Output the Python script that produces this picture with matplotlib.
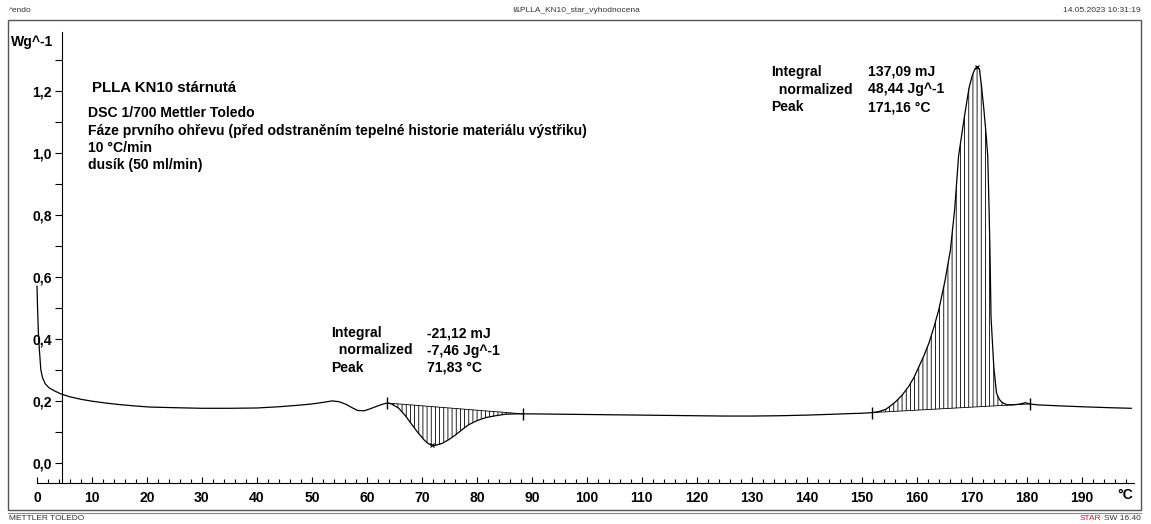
import numpy as np
import matplotlib
matplotlib.use("Agg")
import matplotlib.pyplot as plt
from matplotlib.ticker import MultipleLocator, FuncFormatter
from matplotlib.patches import Rectangle
from matplotlib.lines import Line2D

plt.rcParams['font.family'] = ['Liberation Sans', 'DejaVu Sans']
plt.rcParams['hatch.linewidth'] = 0.6

# DSC curve, temperature in degC and heat flow in W/g
temp = [0.0, 0.1, 0.25, 0.45, 0.7, 1.0, 1.5, 2.2, 3.2, 4.4, 6, 8, 10, 12.5, 15, 17.5,
        20.5, 25, 30, 35, 40, 44, 47.6, 50, 52, 53.7, 55, 56.3, 57.5, 58.3, 59.5, 60.7,
        62, 63, 63.7, 64.5, 65.8, 67, 68.2, 69.3, 70.4, 71.0, 71.8, 72.6, 73.7, 74.9,
        76.1, 77.3, 78.5, 80, 81.6, 83.4, 85.2, 87, 88.4, 90, 95, 100, 105, 110, 115,
        120, 125, 130, 135, 140, 145, 148, 150, 151.8, 153, 154.4, 155.3, 156.2, 157.4,
        158.5, 159.5, 160.4, 161.3, 162.2, 163.1, 164.0, 165.1, 166.1, 166.9, 167.6,
        168.6, 169.5, 170.1, 170.6, 171.0, 171.4, 171.8, 172.2, 172.6, 172.9, 173.1,
        173.3, 173.5, 174.0, 174.5, 175.0, 175.5, 176.3, 177.3, 178.5, 179.3, 179.8,
        180.5, 182, 185.8, 190, 195, 199]
heat_flow = [0.57, 0.50, 0.42, 0.36, 0.30, 0.275, 0.255, 0.242, 0.232, 0.222, 0.213,
             0.205, 0.199, 0.193, 0.188, 0.184, 0.180, 0.178, 0.176, 0.176, 0.177, 0.181,
             0.186, 0.190, 0.195, 0.200, 0.197, 0.188, 0.176, 0.169, 0.168, 0.175, 0.184,
             0.190, 0.193, 0.190, 0.176, 0.152, 0.123, 0.097, 0.074, 0.064, 0.056, 0.057,
             0.063, 0.075, 0.090, 0.107, 0.123, 0.136, 0.146, 0.152, 0.157, 0.158, 0.158,
             0.158, 0.157, 0.156, 0.155, 0.154, 0.153, 0.152, 0.151, 0.151, 0.152, 0.154,
             0.157, 0.159, 0.160, 0.162, 0.165, 0.173, 0.185, 0.198, 0.220, 0.246, 0.276,
             0.311, 0.346, 0.386, 0.437, 0.494, 0.585, 0.685, 0.82, 0.99, 1.11, 1.21, 1.25,
             1.272, 1.278, 1.27, 1.21, 1.14, 1.06, 0.99, 0.85, 0.69, 0.47, 0.31, 0.225,
             0.205, 0.195, 0.188, 0.187, 0.189, 0.192, 0.194, 0.19, 0.187, 0.184, 0.181,
             0.178, 0.176]

# integration limits and peaks
cryst_limits = [63.7, 88.4]
cryst_peak = [71.8, 0.056]
melt_limits = [151.8, 180.5]
melt_peak = [171.0, 1.278]

cryst_text = ["-21,12 mJ", "-7,46 Jg^-1", "71,83 °C"]
melt_text = ["137,09 mJ", "48,44 Jg^-1", "171,16 °C"]
info_lines = ["DSC 1/700 Mettler Toledo",
              "Fáze prvního ohřevu (před odstraněním tepelné historie materiálu výstřiku)",
              "10 °C/min",
              "dusík (50 ml/min)"]

W, H = 1151, 524
FS = 10.1


def px(x, y):
    return x / W, 1 - y / H


fig = plt.figure(figsize=(W / 100, H / 100), dpi=100)
x0, y_top = px(37, 32)
x1, y_bot = px(1134, 483)
ax = fig.add_axes([x0, y_bot, x1 - x0, y_top - y_bot])
ax.set_xlim(0, 199.5)
ax.set_ylim(-0.065, 1.39)

t = np.array(temp)
v = np.array(heat_flow)
ax.plot(t, v, color='black', lw=0.9, clip_on=False)


def integral(limits, peak):
    m = (t >= limits[0]) & (t <= limits[1])
    tt = t[m]
    vv = v[m]
    base = np.interp(tt, [tt[0], tt[-1]], [vv[0], vv[-1]])
    ax.fill_between(tt, vv, base, facecolor='none', edgecolor='black', hatch='||||', lw=0)
    ax.plot([tt[0], tt[-1]], [vv[0], vv[-1]], color='black', lw=0.6)
    ax.plot([tt[0], tt[-1]], [vv[0], vv[-1]], ls='none', marker='|', ms=8, mew=1.0, color='black')
    ax.plot([peak[0]], [peak[1]], ls='none', marker='x', ms=3.5, mew=0.8, color='black')


integral(cryst_limits, cryst_peak)
integral(melt_limits, melt_peak)

# axes styling in the STAR software manner
for s in ['top', 'right']:
    ax.spines[s].set_visible(False)
ax.spines['left'].set_position(('data', 4.5))
ax.spines['left'].set_linewidth(0.8)
ax.spines['bottom'].set_linewidth(0.8)
ax.yaxis.set_major_locator(MultipleLocator(0.2))
ax.yaxis.set_minor_locator(MultipleLocator(0.1))
ax.yaxis.set_major_formatter(FuncFormatter(lambda val, pos: f"{val:.1f}".replace('.', ',') if val < 1.3 else ""))
ax.xaxis.set_major_locator(MultipleLocator(10))
ax.xaxis.set_minor_locator(MultipleLocator(2))
ax.xaxis.set_major_formatter(FuncFormatter(lambda val, pos: f"{val:.0f}" if val < 195 else ""))
ax.tick_params(axis='y', which='both', direction='out', length=5, width=0.8, pad=2,
               labelsize=FS)
ax.tick_params(axis='x', which='major', direction='in', length=4, width=0.8, pad=6,
               labelsize=FS)
ax.tick_params(axis='x', which='minor', direction='in', length=3, width=0.8)
for lab in ax.get_xticklabels() + ax.get_yticklabels():
    lab.set_fontweight('bold')
ax.patch.set_visible(False)

bold = dict(fontsize=FS, fontweight='bold', va='center')
fig.text(*px(11, 42), "Wg^-1", **bold)
fig.text(*px(1117, 495), "°C", **bold)

fig.text(*px(92, 88), "PLLA KN10 stárnutá", fontsize=10.8, fontweight='bold', va='center')
for i, line in enumerate(info_lines):
    fig.text(*px(88, 113 + i * 17.5), line, **bold)

labels = ["Integral", "  normalized", "Peak"]
for i in range(3):
    fig.text(*px(331, 333 + i * 17.5), labels[i], **bold)
    fig.text(*px(427, 333 + i * 17.5), cryst_text[i], **bold)
    fig.text(*px(771, 72 + i * 17.5), labels[i], **bold)
    fig.text(*px(868, 72 + i * 17.5), melt_text[i], **bold)

# page frame, header and footer
small = dict(fontsize=6, va='center', color='#333333')
fig.text(*px(9, 10), "^endo", **small)
fig.text(*px(576, 10), "!&PLLA_KN10_star_vyhodnocena", ha='center', **small)
fig.text(*px(1141, 10), "14.05.2023 10:31:19", ha='right', **small)
fig.text(*px(9, 519), "METTLER TOLEDO", **small)
fig.text(*px(1141, 519), "SW 16.40", ha='right', **small)
fig.text(*px(1101, 519), "STAR", ha='right', fontsize=6, va='center', color='#c02020')

fx0, fy0 = px(8, 510)
fx1, fy1 = px(1141, 20)
fig.patches.append(Rectangle((fx0, fy0), fx1 - fx0, fy1 - fy0, transform=fig.transFigure,
                             fill=False, edgecolor='#555555', lw=1.0))
fig.lines.append(Line2D([fx0, fx1], [px(0, 513)[1]] * 2, transform=fig.transFigure,
                        color='#888888', lw=0.8))

fig.savefig("out.png", dpi=100, facecolor='white')
